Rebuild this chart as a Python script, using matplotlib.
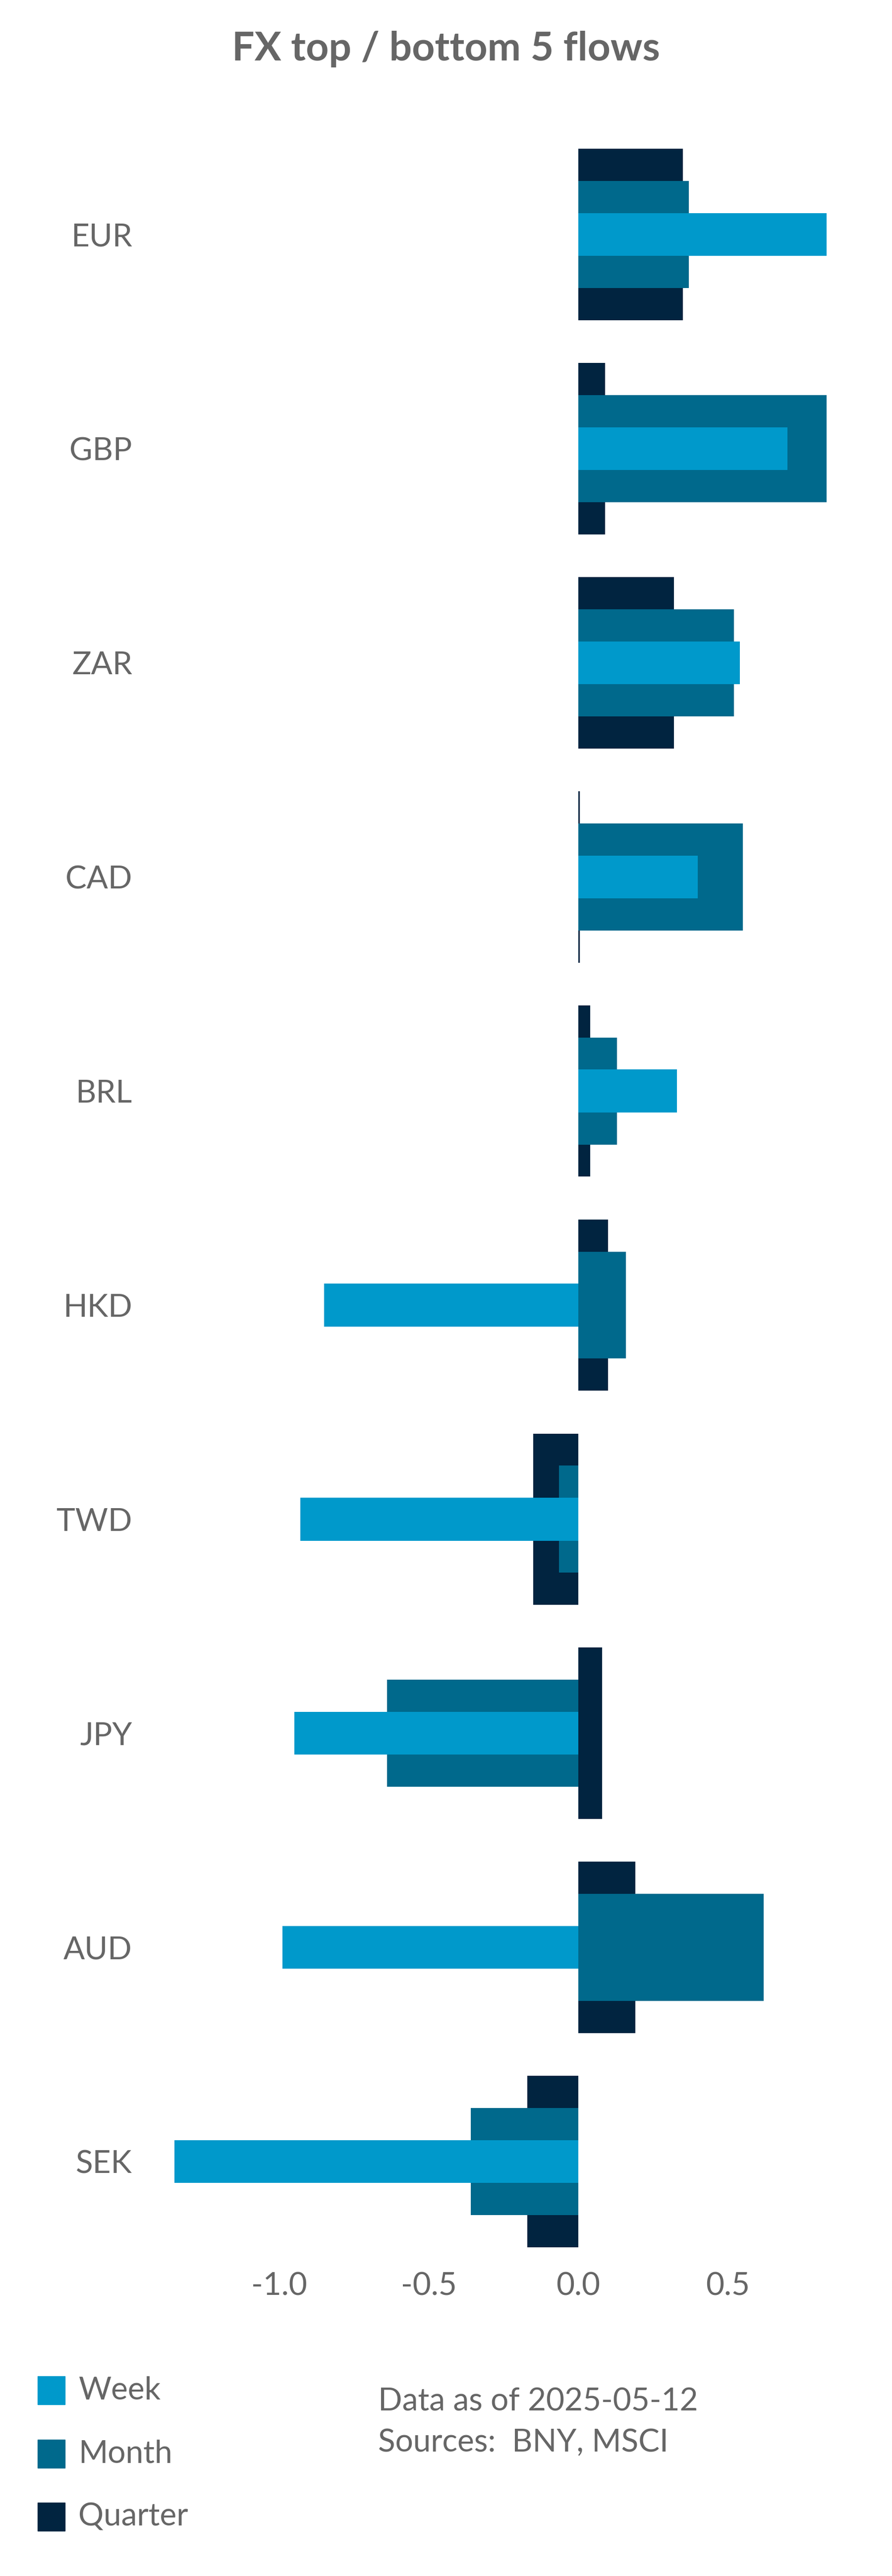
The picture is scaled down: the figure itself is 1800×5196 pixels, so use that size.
import matplotlib
matplotlib.use("Agg")
import matplotlib.pyplot as plt

categories = ["EUR", "GBP", "ZAR", "CAD", "BRL", "HKD", "TWD", "JPY", "AUD", "SEK"]
week = [0.83, 0.70, 0.54, 0.40, 0.33, -0.85, -0.93, -0.95, -0.99, -1.35]
month = [0.37, 0.83, 0.52, 0.55, 0.13, 0.16, -0.065, -0.64, 0.62, -0.36]
quarter = [0.35, 0.09, 0.32, 0.005, 0.04, 0.10, -0.15, 0.08, 0.19, -0.17]
xticks = [-1.0, -0.5, 0.0, 0.5]

C_WEEK, C_MONTH, C_QUARTER = "#0099cb", "#00698c", "#012440"
GREY = "#666666"
plt.rcParams["font.family"] = ["Lato", "DejaVu Sans"]

fig = plt.figure(figsize=(18, 51.96), dpi=100)
ax = fig.add_axes([0.179, 0.126, 0.781, 0.817])
y = range(len(categories))
ax.barh(y, quarter, height=0.8, color=C_QUARTER)
ax.barh(y, month, height=0.5, color=C_MONTH)
ax.barh(y, week, height=0.2, color=C_WEEK)
ax.set_xlim(-1.40, 0.93)
ax.set_ylim(9.42, -0.41)
ax.set_yticks(list(y))
ax.set_yticklabels(categories)
ax.set_xticks(xticks)
ax.set_xticklabels([f"{t:.1f}" for t in xticks])
ax.tick_params(length=0, labelsize=46, colors=GREY, pad=30)
ax.tick_params(axis="y", pad=40)
for s in ax.spines.values():
    s.set_visible(False)

fig.text(0.5, 0.981, "FX top / bottom 5 flows", ha="center", va="center",
         fontsize=58, fontweight="bold", color=GREY)

for i, (lab, c) in enumerate([("Week", C_WEEK), ("Month", C_MONTH), ("Quarter", C_QUARTER)]):
    yy = 1 - (1455 + i * 38.5) / 1568
    fig.patches.append(plt.Rectangle((0.042, yy - 0.0055), 0.031, 0.011,
                                     transform=fig.transFigure, color=c))
    fig.text(0.088, yy, lab, va="center", fontsize=46, color=GREY)

fig.text(0.424, 1 - 1462 / 1568, "Data as of 2025-05-12", va="center", fontsize=46, color=GREY)
fig.text(0.424, 1 - 1487 / 1568, "Sources:  BNY, MSCI", va="center", fontsize=46, color=GREY)

fig.savefig("out.png", dpi=100)
